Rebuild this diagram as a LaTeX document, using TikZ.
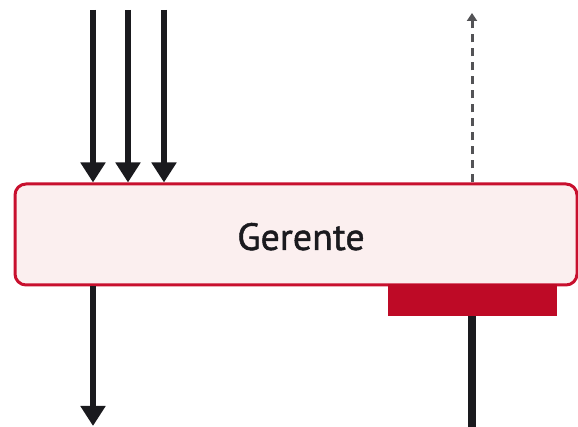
\documentclass[tikz,border=0pt]{standalone}
\usepackage{fontspec}
\setmainfont{PT Sans}
\newfontfamily\labelfont[FakeBold=1.2]{PT Sans}
\usetikzlibrary{arrows.meta}
\definecolor{boxred}{HTML}{C8102E}
\definecolor{barred}{HTML}{BE0A26}
\definecolor{boxfill}{HTML}{FBEFEF}
\definecolor{ink}{HTML}{1A1A1E}
\begin{document}
\begin{tikzpicture}[x=1pt,y=1pt,
  flow/.style={line width=6pt,draw=ink,-{Triangle[width=24pt,length=20pt]}},
  dashflow/.style={line width=3pt,draw=ink!75,dash pattern=on 8pt off 6pt,-{Triangle[width=10pt,length=8pt]}},
  procbox/.style={draw=boxred,line width=3pt,fill=boxfill,rounded corners=11pt,minimum width=562pt,minimum height=101pt,inner sep=0pt}]
\useasboundingbox (0,0) rectangle (578,427);
\node[procbox] (g) at (296,192.5) {};
\node[font=\labelfont\fontsize{38}{40}\selectfont,text=ink,anchor=base] (t) at (301,177) {Gerente};
\fill[barred] (388,111) rectangle (557,143);
\node[inner sep=0pt,minimum width=169pt,minimum height=32pt] (bar) at (472.5,127) {};
\coordinate (i1) at (93,417);
\coordinate (i2) at (128,417);
\coordinate (i3) at (164,417);
\coordinate (o1) at (93,1);
\coordinate (up) at (472,414);
\coordinate (dn) at (472,0);
\draw[flow] (i1) -- (i1 |- g.north);
\draw[flow] (i2) -- (i2 |- g.north);
\draw[flow] (i3) -- (i3 |- g.north);
\draw[flow] (o1 |- g.south) -- (o1);
\draw[dashflow] (up |- g.north) -- (up);
\draw[line width=8pt,draw=ink] (bar.south -| dn) -- (dn);
\end{tikzpicture}
\end{document}
